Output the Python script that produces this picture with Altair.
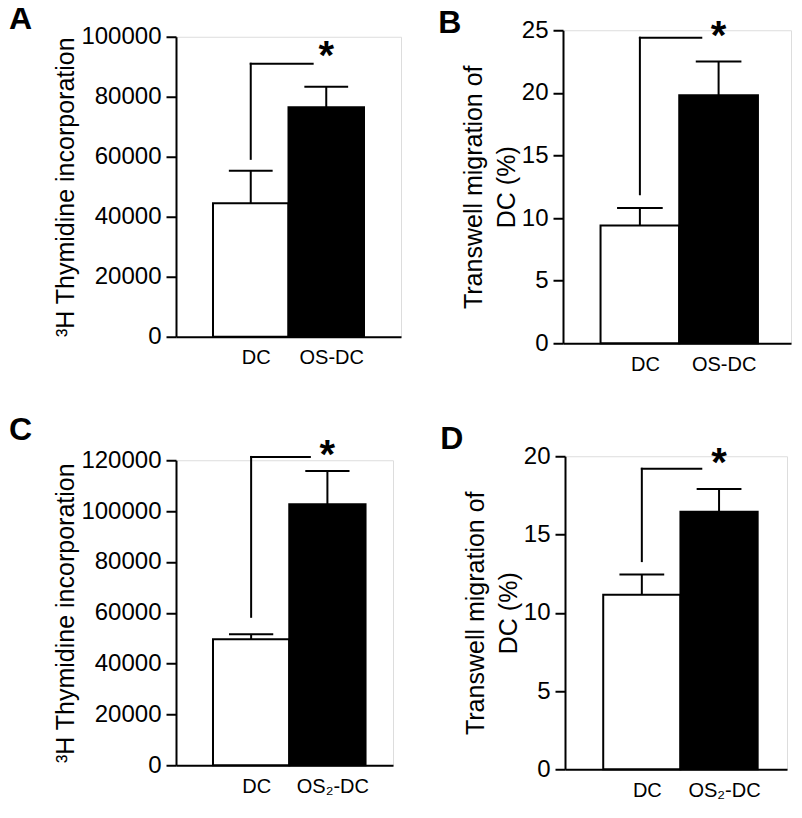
import altair as alt
import pandas as pd

# ---------------- data ----------------
groups_A = ["DC", "OS-DC"]
mean_A = [44500, 76500]
upper_A = [55300, 83300]

groups_B = ["DC", "OS-DC"]
mean_B = [9.4, 19.8]
upper_B = [10.8, 22.5]

groups_C = ["DC", "OS₂-DC"]
mean_C = [49600, 102700]
upper_C = [51500, 115800]

groups_D = ["DC", "OS₂-DC"]
mean_D = [11.15, 16.45]
upper_D = [12.45, 17.9]

# significance bracket: top level, lower end of the drop, right end (x units), star level
bracket_top = {"A": 91000, "B": 24.4, "C": 121300, "D": 19.2}
bracket_drop = {"A": 59300, "B": 11.9, "C": 58400, "D": 13.3}
bracket_end = {"A": 1.82, "B": 1.78, "C": 1.77, "D": 1.77}
star_level = {"A": 95300, "B": 24.95, "C": 124200, "D": 19.9}

y_max = {"A": 100000, "B": 25, "C": 120000, "D": 20}
y_step = {"A": 20000, "B": 5, "C": 20000, "D": 5}
y_titles = {
    "A": "³H Thymidine incorporation",
    "B": ["Transwell migration of", "DC (%)"],
    "C": "³H Thymidine incorporation",
    "D": ["Transwell migration of", "DC (%)"],
}
bar_fill = ["white", "black"]

FONT = "Liberation Sans, Arial, Helvetica, sans-serif"


def panel(letter, groups, means, uppers, width, height, xdom, letter_dx, title_offset, ytitle_pad):
    pos = [i + 1 for i in range(len(groups))]
    bars = pd.DataFrame({
        "x": [p - 0.5 for p in pos],
        "x2": [p + 0.5 for p in pos],
        "mean": means,
        "upper": uppers,
        "pos": pos,
        "cl": [p - 0.29 for p in pos],
        "cr": [p + 0.29 for p in pos],
        "fill": bar_fill,
    })
    label_expr = " : ".join(
        [f"datum.value == {p} ? '{g}'" for p, g in zip(pos[:-1], groups[:-1])] + [f"'{groups[-1]}'"]
    )
    xscale = alt.Scale(domain=xdom, nice=False, zero=False)
    yscale = alt.Scale(domain=[0, y_max[letter]], nice=False)
    x_axis = alt.Axis(values=pos, labelExpr=label_expr, ticks=False, grid=False, title=None,
                      labelFont=FONT, labelFontSize=20, labelPadding=11, labelColor="black",
                      domainColor="black", domainWidth=2, labelOffset=5)
    y_axis = alt.Axis(values=list(range(0, y_max[letter] + 1, y_step[letter])), format="d",
                      grid=False, title=y_titles[letter], titleFont=FONT, titleFontSize=25,
                      titleFontWeight="normal", titleColor="black", titlePadding=ytitle_pad,
                      titleLineHeight=33,
                      labelFont=FONT, labelFontSize=24, labelPadding=5, labelColor="black",
                      tickSize=10, tickWidth=2, tickColor="black", domainColor="black",
                      domainWidth=2)

    base = alt.Chart(bars)
    bar_layer = base.mark_bar(stroke="black", strokeWidth=2).encode(
        x=alt.X("x:Q", scale=xscale, axis=x_axis),
        x2="x2:Q",
        y=alt.Y("mean:Q", scale=yscale, axis=y_axis),
        y2=alt.datum(0),
        fill=alt.Fill("fill:N", scale=None),
    )
    err_v = base.mark_rule(color="black", strokeWidth=2).encode(
        x="pos:Q", y="mean:Q", y2="upper:Q")
    err_cap = base.mark_rule(color="black", strokeWidth=2).encode(
        x="cl:Q", x2="cr:Q", y="upper:Q")

    br = pd.DataFrame({"x": [pos[0]], "xe": [bracket_end[letter]], "top": [bracket_top[letter]],
                       "drop": [bracket_drop[letter]], "sx": [pos[1]], "sy": [star_level[letter]]})
    bbase = alt.Chart(br)
    br_h = bbase.mark_rule(color="black", strokeWidth=2, strokeCap="square").encode(
        x="x:Q", x2="xe:Q", y="top:Q")
    br_v = bbase.mark_rule(color="black", strokeWidth=2, strokeCap="square").encode(
        x="x:Q", y="top:Q", y2="drop:Q")
    star = bbase.mark_text(text="*", font=FONT, fontSize=40, fontWeight="bold", color="black",
                           baseline="middle", dy=6).encode(x="sx:Q", y="sy:Q")

    return alt.layer(bar_layer, err_v, err_cap, br_h, br_v, star).properties(
        width=width, height=height,
        title=alt.TitleParams(letter, anchor="start", frame="bounds", font=FONT, fontSize=32,
                              fontWeight="bold", color="black", dx=letter_dx, offset=title_offset),
    )


pA = panel("A", groups_A, mean_A, upper_A, 225, 300, [0.01, 2.99], -45, -11, 2)
pB = panel("B", groups_B, mean_B, upper_B, 228, 313, [0.023, 2.92], -23, -23, 2)
pC = panel("C", groups_C, mean_C, upper_C, 217, 305, [0.015, 2.86], -45, -11, 2)
pD = panel("D", groups_D, mean_D, upper_D, 222, 313, [0.005, 2.88], -23, -12, 2)

row1 = alt.hconcat(pA, pB, spacing=35, center=True)
row2 = alt.hconcat(pC, pD, spacing=45, center=True)
chart = alt.vconcat(row1, row2, spacing=38).properties(
    padding={"left": 0, "top": -6, "right": 0, "bottom": 0}
).configure_view(stroke=None).configure(font=FONT)

chart.save("out.html", embed_options={"renderer": "svg", "actions": False})
